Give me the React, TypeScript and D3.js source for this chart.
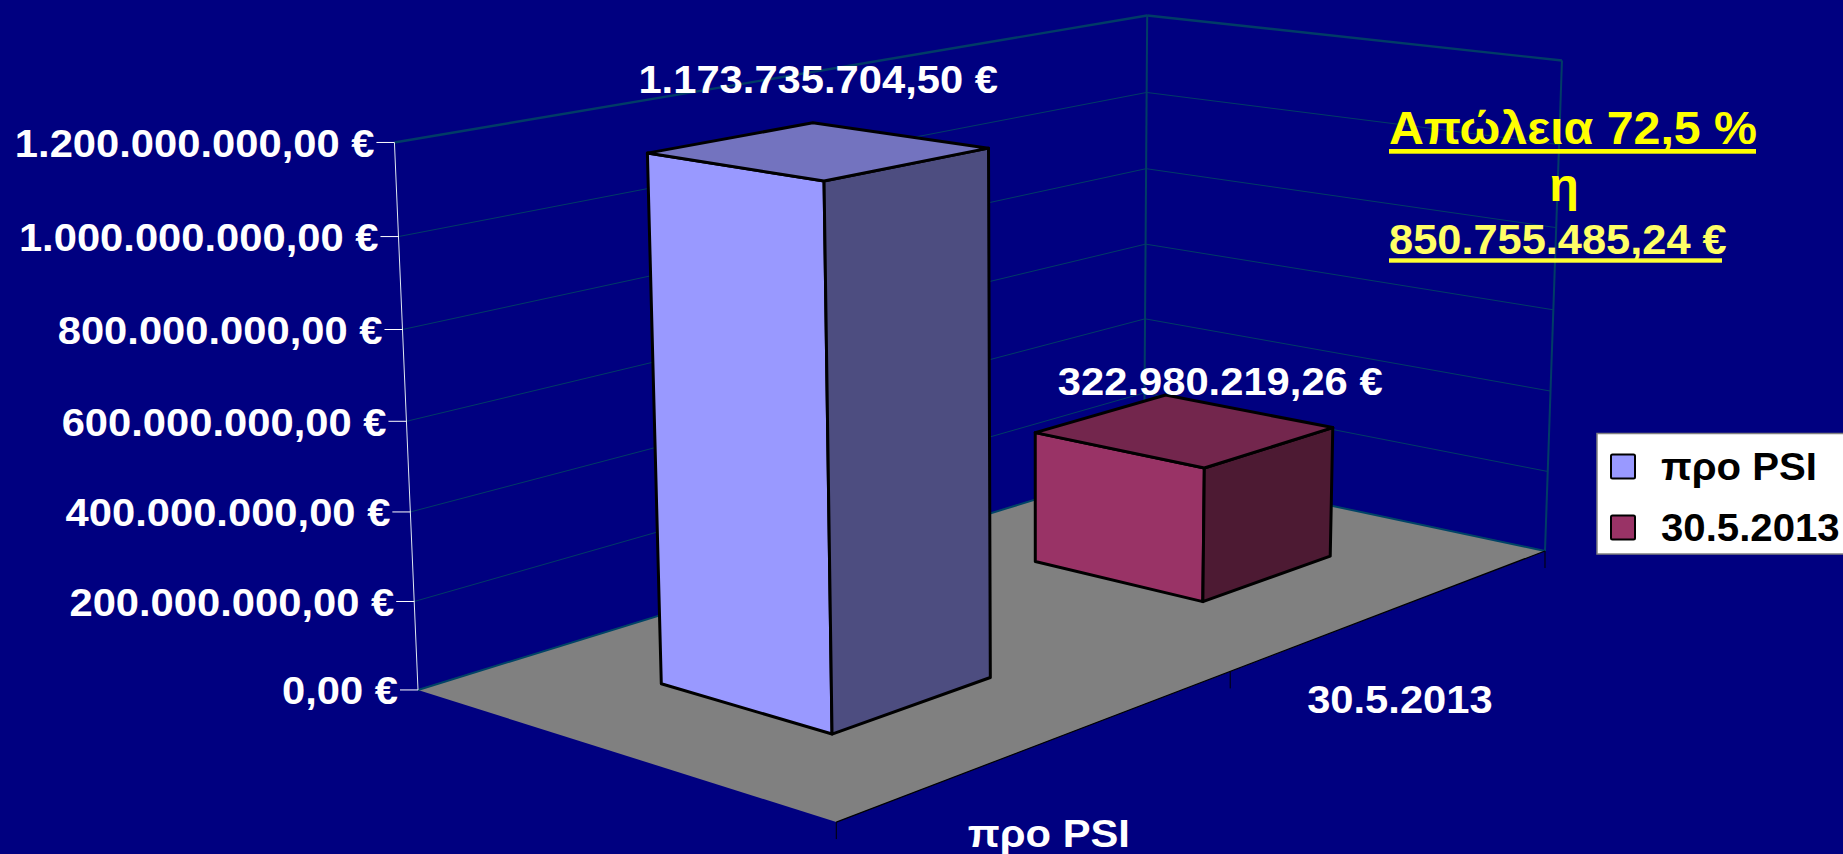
import React from "react";
import * as d3 from "d3";

// ---- data ----
const categories = ["30.5.2013", "προ PSI"];
const seriesNames = ["προ PSI", "30.5.2013"];
const seriesValues = [1173735704.5, 322980219.26];
const axisMax = 1200000000;
const lossLines = ["Απώλεια 72,5 %", "η", "850.755.485,24 €"];

// ---- colours ----
const BG = "#000080";
const GRID = "#003c66";
const FLOOR = "#808080";
const frontFill = ["#9999FF", "#993366"];
const sideFill = ["#4D4D80", "#4D1A33"];
const topFill = ["#7373BF", "#73264D"];
const FONT = "'Liberation Sans', Arial, sans-serif";

// ---- projection: unit box (x along back wall, y up, z towards viewer) -> screen ----
const O = [1144, 466];
const A = [270.9, 38.6];
const B = [-31, -451];
const C = [-802.9, 97];
const persp = [-0.0842, -0.0298, -0.184];
function project(x: number, y: number, z: number): [number, number] {
  const w = 1 + persp[0] * x + persp[1] * y + persp[2] * z;
  return [
    (O[0] + A[0] * x + B[0] * y + C[0] * z) / w,
    (O[1] + A[1] * x + B[1] * y + C[1] * z) / w,
  ];
}
const pathOf = (pts: [number, number][]) => "M" + pts.map((p) => p.join(",")).join("L") + "Z";
const seg = (a: [number, number], b: [number, number]) => `M${a.join(",")}L${b.join(",")}`;

// ---- scales ----
const yScale = d3.scaleLinear().domain([0, axisMax]).range([0, 1]);
const yBar = d3.scaleLinear().domain([0, axisMax]).range([0, 0.995]);
const zBand = d3.scaleBand<string>().domain(categories).range([0, 1]).paddingInner(0.6).paddingOuter(0.3);
const xInner = d3.scaleLinear().domain([0, 1]).range([0.295, 0.705]);
const legendRow = d3.scalePoint<number>().domain([0, 1]).range([454.5, 515.5]);
const ticks = yScale.ticks(6);
const locale = d3.formatLocale({ decimal: ",", thousands: ".", grouping: [3], currency: ["", " €"] });
const money = (v: number) => locale.format(",.2f")(v) + " €";

const SIZE = 39;
const SX = 1.07;
function Label(props: {
  x: number; y: number; size?: number; sx?: number; anchor?: string; fill?: string; children: string;
}) {
  const { x, y, size = SIZE, sx = SX, anchor = "start", fill = "#fff", children } = props;
  return (
    <text
      transform={`translate(${x},${y}) scale(${sx},1)`}
      fontFamily={FONT}
      fontWeight="bold"
      fontSize={size}
      textAnchor={anchor}
      fill={fill}
    >
      {children}
    </text>
  );
}

const labelOffsets: [number, number][] = [[0, -58], [36, -35]];

function Bar({ i }: { i: number }) {
  const cat = seriesNames[i];
  const z0 = zBand(cat)!;
  const z1 = z0 + zBand.bandwidth();
  const x0 = xInner(0);
  const x1 = xInner(1);
  const h = yBar(seriesValues[i]);
  const stroke = { stroke: "#000", strokeWidth: 3, strokeLinejoin: "round" as const };
  return (
    <g>
      <path d={pathOf([project(x0, 0, z1), project(x1, 0, z1), project(x1, h, z1), project(x0, h, z1)])} fill={frontFill[i]} {...stroke} />
      <path d={pathOf([project(x1, 0, z1), project(x1, 0, z0), project(x1, h, z0), project(x1, h, z1)])} fill={sideFill[i]} {...stroke} />
      <path d={pathOf([project(x0, h, z1), project(x1, h, z1), project(x1, h, z0), project(x0, h, z0)])} fill={topFill[i]} {...stroke} />
    </g>
  );
}

export default function App() {
  const catCenter = (c: string) => zBand(c)! + zBand.bandwidth() / 2;
  return (
    <svg
      width={1843}
      height={854}
      viewBox="0 0 1843 854"
      style={{ position: "absolute", left: 0, top: 0, display: "block", background: BG }}
    >
      <rect x={0} y={0} width={1843} height={854} fill={BG} />

      {/* gridlines on the two walls */}
      {ticks.map((t) => {
        const y = yScale(t);
        const top = t === axisMax;
        return (
          <g key={t} fill="none" stroke={GRID} strokeWidth={top ? 2.4 : 1}>
            <path d={seg(project(0, y, 1), project(0, y, 0))} />
            <path d={seg(project(0, y, 0), project(1, y, 0))} />
          </g>
        );
      })}
      <path d={seg(project(0, 0, 0), project(0, 1, 0))} stroke={GRID} strokeWidth={2} fill="none" />
      <path d={seg(project(1, 0, 0), project(1, 1, 0))} stroke={GRID} strokeWidth={2} fill="none" />

      {/* floor */}
      <path d={pathOf([project(0, 0, 0), project(1, 0, 0), project(1, 0, 1), project(0, 0, 1)])} fill={FLOOR} />
      <path d={seg(project(0, 0, 1), project(0, 0, 0))} stroke="#004466" strokeWidth={2} fill="none" />
      <path d={seg(project(0, 0, 0), project(1, 0, 0))} stroke="#004466" strokeWidth={2} fill="none" />
      <path d={seg(project(1, 0, 1), project(1, 0, 0))} stroke="#000" strokeWidth={1.2} fill="none" />

      {/* category ticks */}
      {[0, 0.5, 1].map((z) => {
        const p = project(1, 0, z);
        return <path key={z} d={`M${p[0]},${p[1]}V${p[1] + 17}`} stroke="#000" strokeWidth={1} />;
      })}

      {/* value axis */}
      <path d={seg(project(0, 0, 1), project(0, 1, 1))} stroke="#dfe8ef" strokeWidth={1} fill="none" />
      {ticks.map((t) => {
        const p = project(0, yScale(t), 1);
        return (
          <g key={t}>
            <path d={`M${p[0] - 18},${p[1]}H${p[0]}`} stroke="#fff" strokeWidth={1} />
            <Label x={p[0] - 20} y={p[1] + 14.4} anchor="end">{money(t)}</Label>
          </g>
        );
      })}

      {/* bars, back row first */}
      <Bar i={1} />
      <Bar i={0} />

      {/* data labels */}
      {seriesValues.map((v, i) => {
        const p = project(xInner(0.5), yBar(v), catCenter(seriesNames[i]));
        return (
          <Label key={i} x={p[0] + labelOffsets[i][0]} y={p[1] + labelOffsets[i][1]} anchor="middle">
            {money(v)}
          </Label>
        );
      })}

      {/* category labels */}
      {categories.map((c) => {
        const p = project(1, 0, catCenter(c));
        return (
          <Label key={c} x={p[0] + 4} y={p[1] + 105} anchor="middle">{c}</Label>
        );
      })}

      {/* annotation */}
      <Label x={1389} y={144} size={47} sx={1.028} fill="#FFFF00">{lossLines[0]}</Label>
      <rect x={1389} y={149} width={367} height={4.7} fill="#FFFF00" />
      <Label x={1564} y={201} size={47} sx={1.028} anchor="middle" fill="#FFFF00">{lossLines[1]}</Label>
      <Label x={1389} y={254} size={43} sx={1.009} fill="#FFFF66">{lossLines[2]}</Label>
      <rect x={1389} y={258.3} width={333} height={4.4} fill="#FFFF33" />

      {/* legend */}
      <rect x={1597} y={433.5} width={250} height={120.5} fill="#fff" stroke="#808080" strokeWidth={1.5} />
      {seriesNames.map((s, i) => {
        const top = legendRow(i)!;
        return (
          <g key={s}>
            <rect x={1611} y={top} width={24} height={24} rx={1.5} fill={frontFill[i]} stroke="#000" strokeWidth={2} />
            <Label x={1661} y={top + 25.5} size={39} sx={1.03} fill="#000">{s}</Label>
          </g>
        );
      })}
    </svg>
  );
}
